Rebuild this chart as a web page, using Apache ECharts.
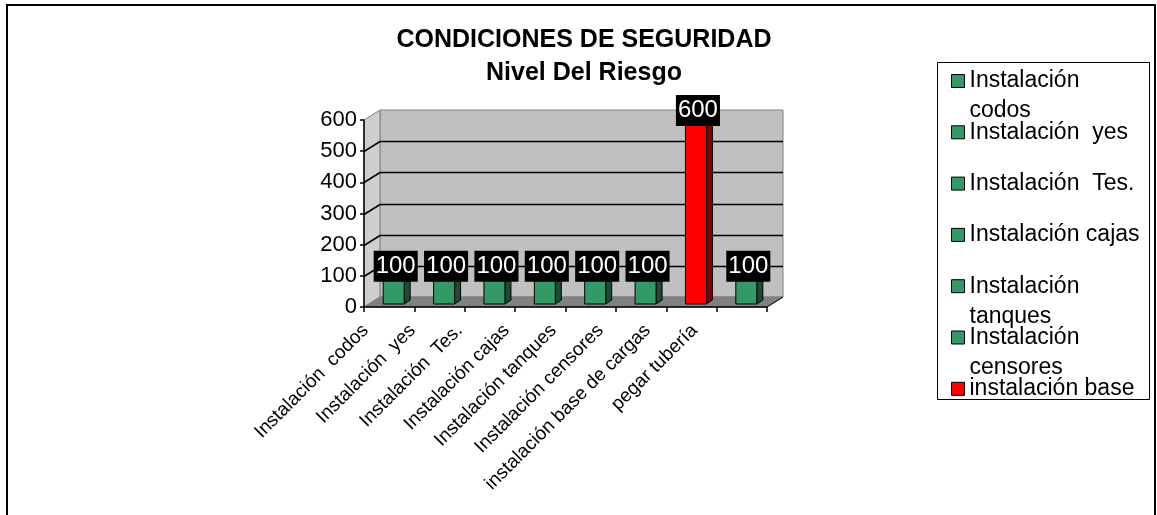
<!DOCTYPE html>
<html>
<head>
<meta charset="utf-8">
<script src="https://cdn.jsdelivr.net/npm/echarts@6/dist/echarts.min.js"></script>
<style>
  html, body { margin: 0; padding: 0; background: #fff; }
  #chart { width: 1157px; height: 515px; }
</style>
</head>
<body>
<div id="chart"></div>
<script>
var categories = [
  "Instalación  codos",
  "Instalación  yes",
  "Instalación  Tes.",
  "Instalación cajas",
  "Instalación tanques",
  "Instalación censores",
  "instalación base de cargas",
  "pegar tubería"
];
var values = [100, 100, 100, 100, 100, 100, 600, 100];
var barColors = ["#339966", "#339966", "#339966", "#339966", "#339966", "#339966", "#FF0000", "#339966"];
// legend text as excel shows it (last entry cut off)
var legendText = [
  "Instalación\ncodos",
  "Instalación  yes",
  "Instalación  Tes.",
  "Instalación cajas",
  "Instalación\ntanques",
  "Instalación\ncensores",
  "instalación base"
];
var yTicks = [0, 100, 200, 300, 400, 500, 600];

var FONT = '"Liberation Sans", Arial, sans-serif';
var DX = 16, DY = -10;      // depth of the walls
var BOX = 4.5, BOY = -3;    // bar shift into depth
var BDX = 6, BDY = -4;      // bar depth
var BW = 21;

function shade(c, f) {
  var a = echarts.color.parse(c);
  return "rgb(" + Math.round(a[0] * f) + "," + Math.round(a[1] * f) + "," + Math.round(a[2] * f) + ")";
}

var chart = echarts.init(document.getElementById("chart"));

function renderWalls(params, api) {
  var cs = params.coordSys;
  var x0 = cs.x, y0 = cs.y, w = cs.width, h = cs.height;
  var kids = [
    { type: "rect", shape: { x: x0 + DX, y: y0 + DY, width: w, height: h },
      style: { fill: "#C0C0C0", stroke: "#808080", lineWidth: 1 } },
    { type: "polygon", shape: { points: [[x0, y0 + h], [x0, y0], [x0 + DX, y0 + DY], [x0 + DX, y0 + h + DY]] },
      style: { fill: "#CFCFCF", stroke: "#808080", lineWidth: 1 } },
    { type: "polygon", shape: { points: [[x0, y0 + h], [x0 + DX, y0 + h + DY], [x0 + w + DX, y0 + h + DY], [x0 + w, y0 + h]] },
      style: { fill: "#808080", stroke: "#808080", lineWidth: 1 } },
    { type: "line", shape: { x1: x0 + w, y1: y0 + h, x2: x0 + w + DX, y2: y0 + h + DY },
      style: { stroke: "#000", lineWidth: 1 } }
  ];
  yTicks.forEach(function (v) {
    if (v === 0 || v === yTicks[yTicks.length - 1]) return;
    var y = Math.round(api.coord([0, v])[1]) + 0.5;
    kids.push({ type: "line", shape: { x1: x0 + DX, y1: y + DY, x2: x0 + w + DX, y2: y + DY },
      style: { stroke: "#000", lineWidth: 1.5 } });
    kids.push({ type: "line", shape: { x1: x0, y1: y, x2: x0 + DX, y2: y + DY },
      style: { stroke: "#000", lineWidth: 1.5 } });
  });
  return { type: "group", children: kids };
}

function renderBar(params, api) {
  var v = api.value(1);
  var top = api.coord([api.value(0), v]);
  var base = api.coord([api.value(0), 0]);
  var c = api.visual("color");
  var x = top[0] - BW / 2 + BOX;
  var y = top[1] + BOY;
  var yb = base[1] + BOY;
  return {
    type: "group",
    children: [
      { type: "polygon", shape: { points: [[x + BW, y], [x + BW + BDX, y + BDY], [x + BW + BDX, yb + BDY], [x + BW, yb]] },
        style: { fill: shade(c, 0.5), stroke: "#000", lineWidth: 1 } },
      { type: "polygon", shape: { points: [[x, y], [x + BDX, y + BDY], [x + BW + BDX, y + BDY], [x + BW, y]] },
        style: { fill: shade(c, 0.8), stroke: "#000", lineWidth: 1 } },
      { type: "rect", shape: { x: x, y: y, width: BW, height: yb - y },
        style: { fill: c, stroke: "#000", lineWidth: 1 } },
      { type: "text", style: { text: String(v), x: x + BW / 2 + 2, y: y - 6.5, align: "center", verticalAlign: "middle",
          fill: "#fff", backgroundColor: "#000", padding: [4, 2, 3, 2], font: "24px " + FONT } }
    ]
  };
}

var series = [{
  name: "walls",
  type: "custom",
  z: 1,
  silent: true,
  renderItem: renderWalls,
  data: [[0, 0]]
}];
categories.forEach(function (name, i) {
  series.push({
    name: name,
    type: "custom",
    z: 2,
    itemStyle: { color: barColors[i] },
    renderItem: renderBar,
    data: [[i, values[i]]]
  });
});

chart.setOption({
  animation: false,
  backgroundColor: "#fff",
  title: {
    text: "CONDICIONES DE SEGURIDAD\nNivel Del Riesgo",
    left: 584,
    top: 24,
    padding: 0,
    textAlign: "center",
    textStyle: { fontFamily: FONT, fontSize: 25, fontWeight: "bold", color: "#000", lineHeight: 33 }
  },
  legend: {
    orient: "vertical",
    left: 951,
    top: 36,
    padding: 0,
    itemGap: -38.7,
    itemWidth: 13,
    itemHeight: 13,
    icon: "rect",
    selectedMode: false,
    itemStyle: { borderColor: "#000", borderWidth: 1 },
    textStyle: { fontFamily: FONT, fontSize: 23, color: "#000", lineHeight: 30 },
    // three text lines per entry so every entry gets the same slot and the marker sits on the first line
    formatter: function (name) {
      var t = legendText[categories.indexOf(name)];
      return t.indexOf("\n") >= 0 ? " \n" + t : " \n" + t + "\n ";
    },
    data: categories.slice(0, legendText.length)
  },
  graphic: [
    { type: "rect", z: -10, shape: { x: 7, y: 5, width: 1148, height: 530 },
      style: { fill: "none", stroke: "#000", lineWidth: 2 } },
    { type: "rect", z: -10, shape: { x: 937.5, y: 62.5, width: 212, height: 337 },
      style: { fill: "#fff", stroke: "#000", lineWidth: 1 } }
  ],
  grid: [
    { left: 364, top: 120, width: 403, height: 187, outerBoundsMode: "none" },
    // excel spaces the slanted category labels a little tighter than the bars
    { left: 342, top: 120, width: 376, height: 187, outerBoundsMode: "none" }
  ],
  xAxis: [{
    type: "category",
    data: categories,
    z: 5,
    axisLine: { lineStyle: { color: "#000", width: 1.5 } },
    axisTick: { show: true, alignWithLabel: false, length: 5, interval: 0, lineStyle: { color: "#000", width: 1.5 } },
    axisLabel: { show: false },
    splitLine: { show: false }
  }, {
    type: "category",
    gridIndex: 1,
    data: categories,
    axisLine: { show: false },
    axisTick: { show: false },
    axisLabel: { interval: 0, rotate: 45, margin: 20.6, fontFamily: FONT, fontSize: 19, color: "#000" },
    splitLine: { show: false }
  }],
  yAxis: [{
    type: "value",
    min: 0,
    max: 600,
    interval: 100,
    z: 5,
    axisLine: { show: true, lineStyle: { color: "#000", width: 1.5 } },
    axisTick: { show: true, length: 4, lineStyle: { color: "#000", width: 1.5 } },
    axisLabel: { margin: 7, fontFamily: FONT, fontSize: 22, color: "#000" },
    splitLine: { show: false }
  }, {
    type: "value",
    gridIndex: 1,
    min: 0,
    max: 600,
    interval: 100,
    show: false
  }],
  series: series
});
</script>
</body>
</html>
